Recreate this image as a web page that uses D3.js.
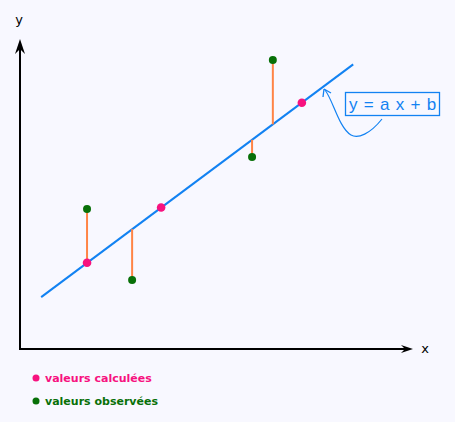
<!DOCTYPE html>
<html><head><meta charset="utf-8">
<script src="https://cdn.jsdelivr.net/npm/d3@7/dist/d3.min.js"></script>
<style>body{margin:0;background:#f8f8ff;}svg{display:block;}</style>
</head><body>
<svg id="c" width="455" height="422"></svg>
<script>
// Data (arbitrary units 0..100 on each axis)
const lineX = [5.4, 85.0];
const lineY = [16.8, 92.1];
const obsX = [17.1, 28.6, 59.2, 64.5];
const obsY = [45.3, 22.3, 62.1, 93.5];
const obsFitY = [27.9, 38.8, 67.7, 72.7];
const calcX = [17.1, 36.0, 71.9];
const calcY = [27.9, 45.8, 79.7];
const legendLabels = ["valeurs calculées", "valeurs observées"];
const equation = "y = a x + b";

const svg = d3.select("#c");
const x = d3.scaleLinear().domain([0, 100]).range([20, 412]);
const y = d3.scaleLinear().domain([0, 100]).range([349, 40]);

const blue = "#1282f2", pink = "#f7127f", green = "#087008", orange = "#ff8446";

// Axes
const gx = svg.append("g").attr("transform", `translate(0,${y(0)})`)
  .call(d3.axisBottom(x).tickValues([]).tickSizeOuter(0));
gx.select(".domain").attr("stroke", "#000").attr("stroke-width", 2).attr("d", `M${x(0)-1},0H${x(100)-4}`);
const gy = svg.append("g").attr("transform", `translate(${x(0)},0)`)
  .call(d3.axisLeft(y).tickValues([]).tickSizeOuter(0));
gy.select(".domain").attr("stroke", "#000").attr("stroke-width", 2).attr("d", `M0,${y(0)+1}V${y(100)+4}`);
// arrowheads
const ax = x(0), ay = y(100);
svg.append("path").attr("d", `M${ax},${ay-1} L${ax-5},${ay+14} L${ax},${ay+9} L${ax+5},${ay+14} Z`).attr("fill", "#000");
const bx = x(100)+1, by = y(0);
svg.append("path").attr("d", `M${bx},${by} L${bx-12},${by-4} L${bx-8},${by} L${bx-12},${by+4} Z`).attr("fill", "#000");
svg.append("text").attr("x", ax-1).attr("y", 24).attr("text-anchor", "middle")
  .attr("font-family", "DejaVu Sans, sans-serif").attr("font-size", 13).text("y");
svg.append("text").attr("x", 425).attr("y", 353).attr("text-anchor", "middle")
  .attr("font-family", "DejaVu Sans, sans-serif").attr("font-size", 13).text("x");

// Regression line
svg.append("line").attr("x1", x(lineX[0])).attr("y1", y(lineY[0]))
  .attr("x2", x(lineX[1])).attr("y2", y(lineY[1]))
  .attr("stroke", blue).attr("stroke-width", 2);

// Residual segments
svg.selectAll(".res").data(obsX).join("line")
  .attr("x1", d => x(d)).attr("x2", d => x(d))
  .attr("y1", (d, i) => y(obsY[i])).attr("y2", (d, i) => y(obsFitY[i]))
  .attr("stroke", orange).attr("stroke-width", 2);

// Observed points
svg.selectAll(".obs").data(obsX).join("circle")
  .attr("cx", d => x(d)).attr("cy", (d, i) => y(obsY[i])).attr("r", 4).attr("fill", green);
// Calculated points
svg.selectAll(".calc").data(calcX).join("circle")
  .attr("cx", d => x(d)).attr("cy", (d, i) => y(calcY[i])).attr("r", 4.3).attr("fill", pink);

// Equation box
svg.append("rect").attr("x", 345.5).attr("y", 92.5).attr("width", 94).attr("height", 23)
  .attr("fill", "none").attr("stroke", blue).attr("stroke-width", 1.3);
svg.append("text").attr("x", 393).attr("y", 110).attr("text-anchor", "middle")
  .attr("font-family", "Liberation Sans, Arial, sans-serif").attr("font-size", 17)
  .attr("letter-spacing", 0.8)
  .attr("fill", blue).attr("xml:space", "preserve").text(equation);
// Curved pointer
svg.append("path").attr("d", "M382,119 C370,134 358,139 351,135 C339,128 333,100 325,90")
  .attr("fill", "none").attr("stroke", blue).attr("stroke-width", 1.2);
svg.append("path").attr("d", "M324,89 L323,97 M324,89 L331,93")
  .attr("fill", "none").attr("stroke", blue).attr("stroke-width", 1.3);

// Legend
const leg = svg.selectAll(".leg").data(legendLabels).join("g")
  .attr("transform", (d, i) => `translate(0,${377 + i*23})`);
leg.append("circle").attr("cx", 36).attr("cy", 1).attr("r", 3.5)
  .attr("fill", (d, i) => i ? green : pink);
leg.append("text").attr("x", 45).attr("y", 4.5)
  .attr("font-family", "DejaVu Sans, sans-serif").attr("font-size", 11).attr("font-weight", "bold")
  .attr("fill", (d, i) => i ? green : pink).text(d => d);
</script>
</body></html>
